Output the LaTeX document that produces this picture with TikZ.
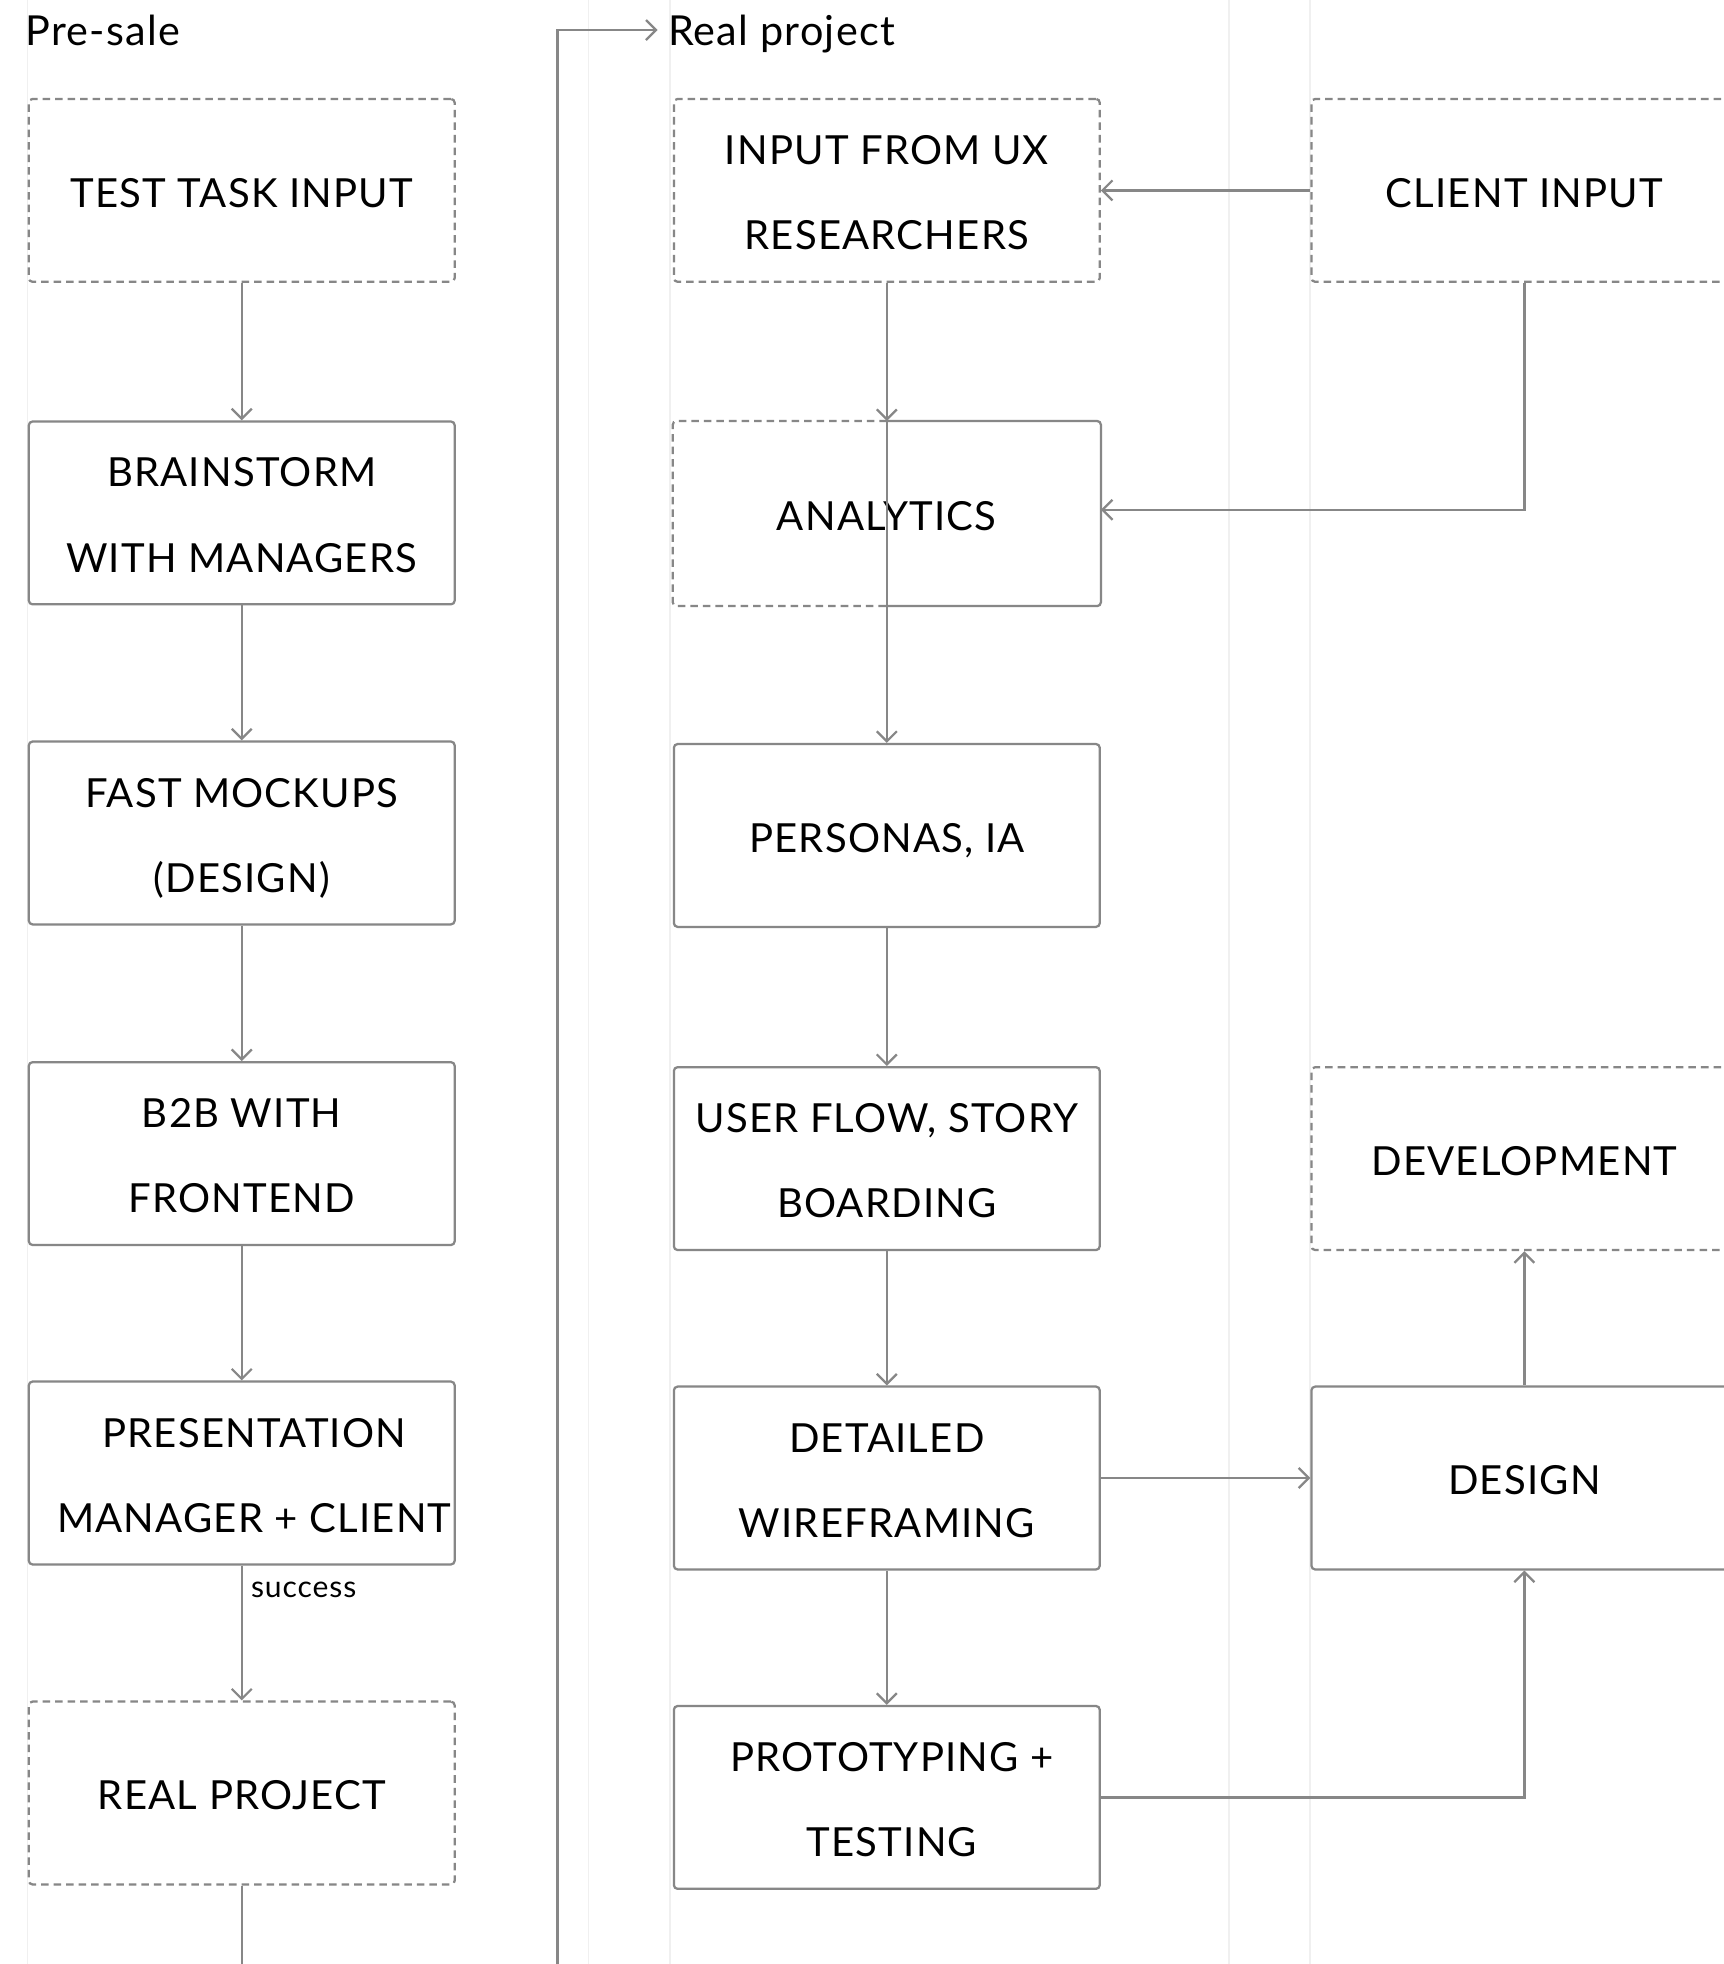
\documentclass[tikz,border=0pt]{standalone}
\usepackage{fontspec}
\setmainfont{Lato}[LetterSpace=3]
\usetikzlibrary{arrows.meta}
\definecolor{linegray}{HTML}{878787}
\definecolor{lanegray}{HTML}{F0F0F0}
\tikzset{
  lane/.style={draw=lanegray, line width=0.6pt},
  boxbase/.style={rectangle, minimum width=170pt, minimum height=73pt, align=center,
    font=\fontsize{16}{34}\selectfont, line width=0.9pt, rounded corners=1.5pt, inner sep=0pt,
    text height=13.3pt, text depth=0pt},
  twolines/.style={text height=47.3pt, text depth=0pt},
  boxsolid/.style={boxbase, draw=linegray},
  boxdash/.style={boxbase, draw=linegray, dash pattern=on 3pt off 2pt},
  conn/.style={draw=linegray, line width=0.9pt, -{Straight Barb[length=4pt,width=8pt,line width=0.9pt]}},
  plainline/.style={draw=linegray, line width=0.9pt},
  title/.style={font=\fontsize{16.5}{18}\selectfont, inner sep=0pt, anchor=base west},
  lbl/.style={font=\fontsize{12}{14}\selectfont, inner sep=0pt, anchor=west},
}
\begin{document}
\begin{tikzpicture}[x=0.5pt,y=-0.5pt]
\useasboundingbox (0,0) rectangle (1376,1568);
\fill[white] (0,0) rectangle (1376,1568);
% lanes
\foreach \lx in {22,470,535,981,1046} \draw[lane] (\lx,0) -- (\lx,1568);

% titles
\node[title] (presale) at (20,36.5) {Pre-sale};
\node[title] (realproj) at (533,36.5) {Real project};
\coordinate (rtin) at (525,24);

% left column
\node[boxdash]  (tti)  at (193,152)    {TEST TASK INPUT};
\node[boxsolid, twolines] (bwm)  at (193,409.5)  {BRAINSTORM\\WITH MANAGERS};
\node[boxsolid, twolines] (fm)   at (193,665)    {FAST MOCKUPS\\(DESIGN)};
\node[boxsolid, twolines] (b2b)  at (193,921)    {B2B WITH\\FRONTEND};
\node[boxsolid] (pres) at (193,1176)   {};
\node[boxbase, twolines, minimum width=0pt, minimum height=0pt] (prestext) at ([xshift=5pt]pres.center) {PRESENTATION\\MANAGER + CLIENT};
\node[boxdash]  (rp)   at (193,1431.5) {REAL PROJECT};
\coordinate (rpend) at (193,1568);
\coordinate (loopbot) at (445,1568);

% middle column
\node[boxdash, twolines]  (ux)   at (708,152)  {INPUT FROM UX\\RESEARCHERS};
\node[boxbase]  (an)   at (708,410)  {ANALYTICS};
\node[boxsolid] (pers) at (708,667)  {PERSONAS, IA};
\node[boxsolid, twolines] (uf)   at (708,925)  {USER FLOW, STORY\\BOARDING};
\node[boxsolid, twolines] (dw)   at (708,1180) {DETAILED\\WIREFRAMING};
\node[boxsolid] (pt)   at (708,1435) {};
\node[boxbase, twolines, minimum width=0pt, minimum height=0pt] (pttext) at ([xshift=2pt]pt.center) {PROTOTYPING +\\TESTING};

% analytics: dashed left half, solid right half
\draw[draw=linegray, line width=0.9pt, dash pattern=on 3pt off 2pt, rounded corners=1.5pt]
  (an.north) -- (an.north west) -- (an.south west) -- (an.south);
\draw[draw=linegray, line width=0.9pt, rounded corners=1.5pt]
  (an.north) -- (an.north east) -- (an.south east) -- (an.south);

% right column
\node[boxdash]  (ci)  at (1217,152)  {CLIENT INPUT};
\node[boxdash]  (dev) at (1217,925)  {DEVELOPMENT};
\node[boxsolid] (des) at (1217,1180) {DESIGN};

% left connectors
\draw[conn] (tti.south) -- (bwm.north);
\draw[conn] (bwm.south) -- (fm.north);
\draw[conn] (fm.south) -- (b2b.north);
\draw[conn] (b2b.south) -- (pres.north);
\draw[conn] (pres.south) -- (rp.north);
\node[lbl] (succ) at (200,1269) {success};
\draw[plainline] (rp.south) -- (rpend);
\draw[conn] (loopbot) |- (rtin);

% middle connectors
\draw[conn] (ci.west) -- (ux.east);
\draw[conn] (ci.south) |- ([yshift=1.5pt]an.east);
\draw[conn] (ux.south) -- (an.north);
\draw[conn] (ux.south) -- (pers.north);
\draw[conn] (pers.south) -- (uf.north);
\draw[conn] (uf.south) -- (dw.north);
\draw[conn] (dw.south) -- (pt.north);
\draw[conn] (dw.east) -- (des.west);
\draw[conn] (pt.east) -| (des.south);
\draw[conn] (des.north) -- (dev.south);
\end{tikzpicture}
\end{document}
